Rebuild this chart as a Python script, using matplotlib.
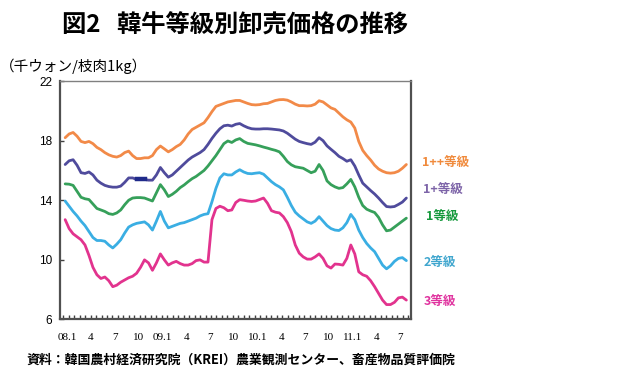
import numpy as np
import matplotlib.pyplot as plt

plt.rcParams['font.family'] = ['Noto Sans CJK JP', 'DejaVu Sans']

# 月インデックス (08.1 = 0)、半月ごとの読み取り値
months = np.arange(87) * 0.5 - 0.25

grade_1pp = [18.2, 18.45, 18.55, 18.3, 17.95, 17.87, 17.95, 17.8, 17.55, 17.4,
             17.2, 17.05, 16.95, 16.9, 17.0, 17.2, 17.3, 17.0, 16.8, 16.8,
             16.85, 16.85, 17.0, 17.4, 17.64, 17.45, 17.25, 17.4, 17.6, 17.75,
             18.05, 18.45, 18.75, 18.9, 19.05, 19.2, 19.55, 19.95, 20.3, 20.4,
             20.5, 20.6, 20.65, 20.7, 20.7, 20.6, 20.5, 20.42, 20.4, 20.42,
             20.48, 20.5, 20.6, 20.7, 20.75, 20.76, 20.72, 20.6, 20.45, 20.35,
             20.35, 20.33, 20.35, 20.45, 20.68, 20.6, 20.4, 20.2, 20.1, 19.85,
             19.6, 19.4, 19.25, 18.85, 17.95, 17.35, 17.0, 16.7, 16.35, 16.1,
             15.95, 15.85, 15.82, 15.85, 15.95, 16.15, 16.4]
grade_1p = [16.4, 16.65, 16.72, 16.35, 15.85, 15.8, 15.9, 15.7, 15.35, 15.15,
            15.0, 14.92, 14.88, 14.88, 14.95, 15.2, 15.5, 15.5, 15.4, 15.4,
            15.4, 15.35, 15.35, 15.7, 16.2, 15.85, 15.55, 15.7, 15.95, 16.2,
            16.45, 16.7, 16.9, 17.05, 17.2, 17.4, 17.75, 18.15, 18.5, 18.8,
            19.0, 19.04, 18.98, 19.1, 19.15, 19.0, 18.88, 18.8, 18.78, 18.78,
            18.8, 18.8, 18.78, 18.75, 18.72, 18.65, 18.5, 18.3, 18.1, 17.95,
            17.87, 17.8, 17.75, 17.9, 18.2, 18.0, 17.65, 17.42, 17.2, 16.95,
            16.8, 16.62, 16.72, 16.3, 15.7, 15.15, 14.9, 14.65, 14.42, 14.15,
            13.85, 13.58, 13.55, 13.58, 13.72, 13.88, 14.15]
grade_1 = [15.1, 15.08, 15.0, 14.6, 14.2, 14.1, 14.05, 13.75, 13.45, 13.35,
           13.25, 13.1, 13.05, 13.15, 13.35, 13.7, 14.0, 14.15, 14.18, 14.18,
           14.15, 14.05, 13.95, 14.5, 15.05, 14.7, 14.25, 14.4, 14.6, 14.85,
           15.03, 15.25, 15.45, 15.6, 15.8, 16.0, 16.3, 16.65, 17.0, 17.4,
           17.8, 17.98, 17.88, 18.05, 18.14, 17.95, 17.82, 17.77, 17.72, 17.65,
           17.57, 17.5, 17.42, 17.35, 17.25, 16.95, 16.6, 16.38, 16.25, 16.2,
           16.15, 16.0, 15.85, 15.95, 16.4, 16.0, 15.3, 15.05, 14.9, 14.8,
           14.85, 15.1, 15.4, 14.9, 14.2, 13.65, 13.4, 13.28, 13.18, 12.85,
           12.35, 11.95, 12.0, 12.2, 12.4, 12.6, 12.8]
grade_2 = [13.95, 13.6, 13.25, 12.95, 12.6, 12.3, 11.9, 11.5, 11.3, 11.3,
           11.25, 11.0, 10.8, 11.05, 11.35, 11.8, 12.2, 12.35, 12.45, 12.5,
           12.55, 12.35, 12.0, 12.6, 13.25, 12.6, 12.15, 12.25, 12.35, 12.45,
           12.5, 12.6, 12.7, 12.8, 12.95, 13.05, 13.1, 13.9, 14.8, 15.5,
           15.78, 15.7, 15.7, 15.9, 16.05, 15.9, 15.8, 15.78, 15.82, 15.85,
           15.75, 15.5, 15.25, 15.05, 14.9, 14.7, 14.2, 13.65, 13.2, 12.95,
           12.75, 12.55, 12.45, 12.6, 12.9, 12.6, 12.3, 12.1, 12.0, 11.97,
           12.15, 12.5, 13.05, 12.7, 12.0, 11.5, 11.1, 10.8, 10.55, 10.1,
           9.65, 9.4, 9.6, 9.9, 10.1, 10.15, 9.95]
grade_3 = [12.7, 12.1, 11.75, 11.55, 11.35, 11.0, 10.3, 9.5, 9.0, 8.75,
           8.85, 8.6, 8.2, 8.3, 8.5, 8.65, 8.8, 8.9, 9.1, 9.5,
           10.0, 9.8, 9.3, 9.8, 10.4, 10.0, 9.65, 9.8, 9.9, 9.75,
           9.65, 9.65, 9.75, 9.95, 10.0, 9.85, 9.85, 12.7, 13.45, 13.6,
           13.5, 13.3, 13.35, 13.85, 14.04, 14.0, 13.95, 13.92, 13.95, 14.05,
           14.15, 13.8, 13.3, 13.2, 13.15, 12.9, 12.5, 11.9, 11.0, 10.45,
           10.2, 10.05, 10.05, 10.2, 10.4, 10.1, 9.6, 9.45, 9.72, 9.7,
           9.65, 10.1, 11.0, 10.4, 9.2, 9.0, 8.9, 8.6, 8.2, 7.75,
           7.3, 7.0, 7.0, 7.15, 7.45, 7.5, 7.3]

series = [
    (grade_1pp, '#F28A48', '1++等級', '#F08A3C', 16.55, 44.7),
    (grade_1p, '#4F4B9C', '1+等級', '#7D64A8', 14.71, 44.9),
    (grade_1, '#36A05A', '1等級', '#15993C', 12.92, 45.2),
    (grade_2, '#3AAEE3', '2等級', '#40A6CE', 9.82, 44.9),
    (grade_3, '#E2338E', '3等級', '#E0339F', 7.24, 44.9),
]

tick_pos = [0, 3, 6, 9, 12, 15, 18, 21, 24, 27, 30, 33, 36, 39, 42]
tick_labels = ['08.1', '4', '7', '10', '09.1', '4', '7', '10', '10.1', '4',
               '7', '10', '11.1', '4', '7']

fig = plt.figure(figsize=(6.4, 3.87), dpi=100)
ax = fig.add_axes([0.0945, 0.1745, 0.548, 0.616])

for vals, col, name, lcol, ly, lx in series:
    ax.plot(months, vals, color=col, lw=2.0, solid_capstyle='round')
    ax.text(lx, ly, name, color=lcol, fontsize=9, fontweight='bold',
            va='center', ha='left', clip_on=False)

# 1+等級の線上の濃い部分
ax.plot(months[18:21], grade_1p[18:21], color='#1F2A8A', lw=3.2)

ax.set_xlim(-0.84, 43.36)
ax.set_ylim(6, 22)
ax.set_yticks([6, 10, 14, 18, 22])
ax.set_xticks(tick_pos)
ax.set_xticklabels(tick_labels, fontfamily='Liberation Serif', fontsize=8)
ax.set_xticks(np.arange(-0.5, 43.36, 0.69), minor=True)
ax.tick_params(axis='x', which='major', length=0, pad=10)
ax.tick_params(axis='x', which='minor', direction='in', length=3, width=1, color='#404040')
ax.tick_params(axis='y', direction='in', length=3, width=1, color='#404040', pad=6)
for lab in ax.get_yticklabels():
    lab.set_fontfamily('Liberation Sans')
    lab.set_fontsize(8.5)

for side in ['left', 'bottom', 'right']:
    ax.spines[side].set_color('#505050')
    ax.spines[side].set_linewidth(1.6)
ax.spines['top'].set_color('#808080')
ax.spines['top'].set_linewidth(1.0)

fig.text(0.097, 0.935, '図2   韓牛等級別卸売価格の推移', fontsize=17.5, fontweight='bold',
         va='center', ha='left')
fig.text(0.0, 0.829, '（千ウォン/枝肉1kg）', fontsize=10.5, va='center', ha='left')
fig.text(0.042, 0.07, '資料：韓国農村経済研究院（KREI）農業観測センター、畜産物品質評価院',
         fontsize=9.3, fontweight='bold', va='center', ha='left')

fig.savefig('out.png', dpi=100)
